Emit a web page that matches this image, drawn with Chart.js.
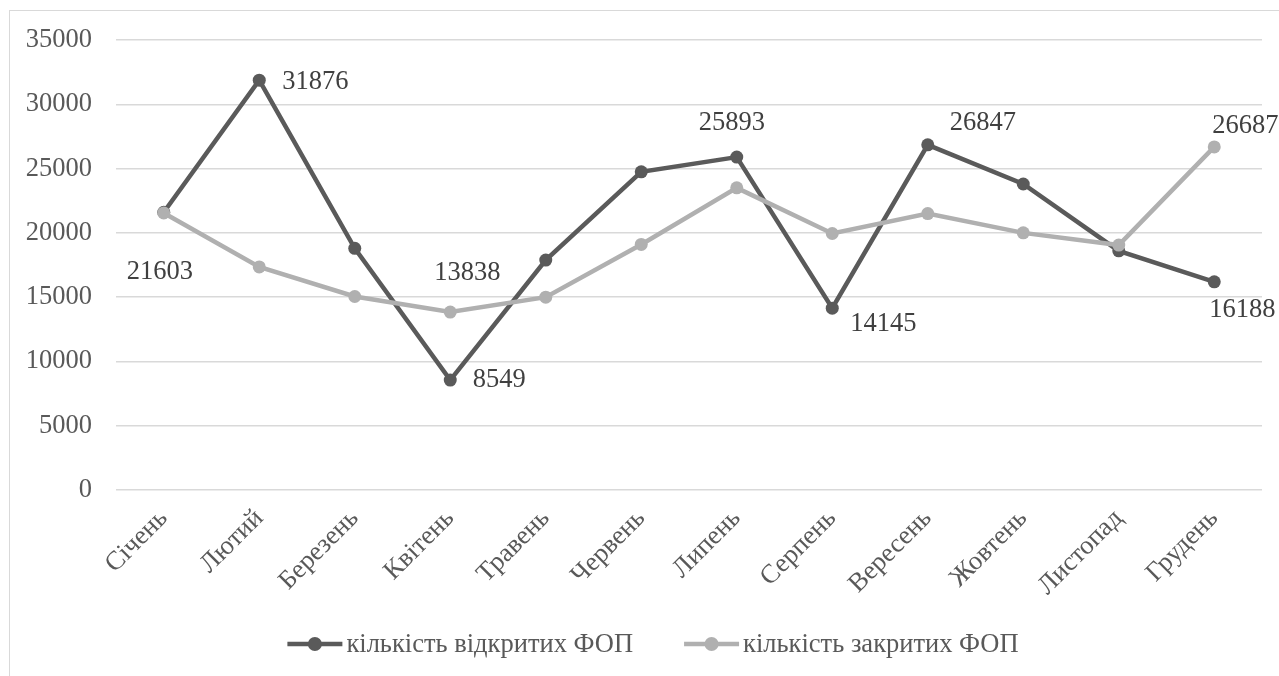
<!DOCTYPE html>
<html>
<head>
<meta charset="utf-8">
<script src="https://cdn.jsdelivr.net/npm/chart.js@4.4.1/dist/chart.umd.min.js"></script>
<style>
  html, body { margin: 0; padding: 0; background: #ffffff; }
  #frame { position: absolute; left: 9px; top: 10px; width: 1300px; height: 700px;
           border-left: 1px solid #d9d9d9; border-top: 1px solid #d9d9d9; }
  #wrap { position: absolute; left: 0; top: 0; width: 1279px; height: 676px; }
</style>
</head>
<body>
<div id="frame"></div>
<div id="wrap"><canvas id="chart" width="1279" height="676"></canvas></div>
<script>
// Months of the year
const months = ['Січень', 'Лютий', 'Березень', 'Квітень', 'Травень', 'Червень',
                'Липень', 'Серпень', 'Вересень', 'Жовтень', 'Листопад', 'Грудень'];

// Registered (opened) individual entrepreneurs per month
const openedFop = [21603, 31876, 18800, 8549, 17880, 24750, 25893, 14145, 26847, 23800, 18600, 16188];

// Closed individual entrepreneurs per month
const closedFop = [21550, 17350, 15050, 13838, 15000, 19100, 23500, 19950, 21500, 20000, 19050, 26687];

// Value axis tick labels
const yTickValues = [0, 5000, 10000, 15000, 20000, 25000, 30000, 35000];

// Series names
const seriesNames = ['кількість відкритих ФОП', 'кількість закритих ФОП'];

// Styling
const FONT_FAMILY = '"Liberation Serif", "Times New Roman", serif';
const FONT_SIZE = 26.5;
const TEXT_COLOR = '#595959';
const LABEL_COLOR = '#404040';
const DARK = '#5a5a5a';
const LIGHT = '#b0b0b0';

// Where each value label sits relative to its point (dx, dy in px)
const labelOffsets = {
  0: { 0: [-4, 60], 1: [56, 2], 3: [49, 0], 6: [-5, -34], 7: [51, 16], 8: [55, -22], 11: [28, 28] },
  1: { 3: [17, -39], 11: [31, -21] }
};

// Legend placement
const legendStyle = { centerX: 653, y: 644, lineLen: 55, gapText: 4, gapItems: 51, radius: 7 };

const valueLabels = {
  id: 'valueLabels',
  afterDatasetsDraw(chart) {
    const ctx = chart.ctx;
    ctx.save();
    ctx.font = FONT_SIZE + 'px ' + FONT_FAMILY;
    ctx.fillStyle = LABEL_COLOR;
    ctx.textAlign = 'center';
    ctx.textBaseline = 'middle';
    chart.data.datasets.forEach((ds, di) => {
      const offs = labelOffsets[di];
      if (!offs) return;
      const meta = chart.getDatasetMeta(di);
      Object.keys(offs).forEach(k => {
        const i = Number(k);
        const pt = meta.data[i];
        const [dx, dy] = offs[i];
        ctx.fillText(String(ds.data[i]), pt.x + dx, pt.y + dy);
      });
    });
    ctx.restore();
  }
};

const lineLegend = {
  id: 'lineLegend',
  afterDraw(chart) {
    const ctx = chart.ctx;
    const s = legendStyle;
    ctx.save();
    ctx.font = FONT_SIZE + 'px ' + FONT_FAMILY;
    ctx.textBaseline = 'middle';
    ctx.textAlign = 'left';
    const items = chart.data.datasets.map(ds => ({
      text: ds.label, color: ds.borderColor, width: ctx.measureText(ds.label).width
    }));
    let total = 0;
    items.forEach((it, i) => {
      total += s.lineLen + s.gapText + it.width + (i < items.length - 1 ? s.gapItems : 0);
    });
    let x = s.centerX - total / 2;
    items.forEach(it => {
      ctx.strokeStyle = it.color;
      ctx.lineWidth = 4.5;
      ctx.beginPath();
      ctx.moveTo(x, s.y);
      ctx.lineTo(x + s.lineLen, s.y);
      ctx.stroke();
      ctx.fillStyle = it.color;
      ctx.beginPath();
      ctx.arc(x + s.lineLen / 2, s.y, s.radius, 0, Math.PI * 2);
      ctx.fill();
      ctx.fillStyle = TEXT_COLOR;
      ctx.fillText(it.text, x + s.lineLen + s.gapText, s.y + 1);
      x += s.lineLen + s.gapText + it.width + s.gapItems;
    });
    ctx.restore();
  }
};

new Chart(document.getElementById('chart'), {
  type: 'line',
  data: {
    labels: months,
    datasets: [
      {
        label: seriesNames[0],
        data: openedFop,
        borderColor: DARK,
        backgroundColor: DARK,
        borderWidth: 4.5,
        pointRadius: 6.5,
        pointBorderWidth: 0,
        pointBackgroundColor: DARK,
        tension: 0,
        order: 1
      },
      {
        label: seriesNames[1],
        data: closedFop,
        borderColor: LIGHT,
        backgroundColor: LIGHT,
        borderWidth: 4.5,
        pointRadius: 6.5,
        pointBorderWidth: 0,
        pointBackgroundColor: LIGHT,
        tension: 0,
        order: 0
      }
    ]
  },
  options: {
    responsive: false,
    animation: false,
    devicePixelRatio: 1,
    layout: { padding: { left: 0, right: 17, top: 40, bottom: 76 } },
    plugins: {
      legend: { display: false },
      tooltip: { enabled: false }
    },
    scales: {
      x: {
        offset: true,
        grid: { display: false },
        border: { display: false },
        ticks: {
          autoSkip: false,
          maxRotation: 45,
          minRotation: 45,
          padding: 5,
          color: TEXT_COLOR,
          font: { family: FONT_FAMILY, size: FONT_SIZE }
        },
        afterFit(scale) { scale.height = 110; }
      },
      y: {
        min: 0,
        max: 35000,
        afterBuildTicks(scale) { scale.ticks = yTickValues.map(v => ({ value: v })); },
        grid: { color: '#d9d9d9', lineWidth: 1.5, drawTicks: false },
        border: { display: false },
        ticks: {
          padding: 24,
          color: TEXT_COLOR,
          font: { family: FONT_FAMILY, size: FONT_SIZE },
          callback: v => String(v)
        },
        afterFit(scale) { scale.width = 116; }
      }
    }
  },
  plugins: [valueLabels, lineLegend]
});
</script>
</body>
</html>
